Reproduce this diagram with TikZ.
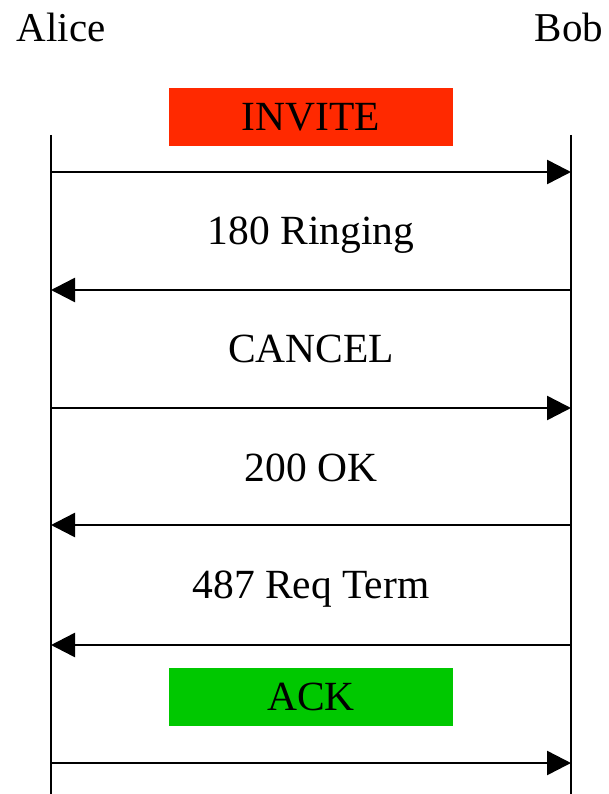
\documentclass[tikz,border=0pt]{standalone}
\usepackage{fontspec}
\setmainfont{Liberation Serif}
\usetikzlibrary{arrows.meta}
\tikzset{
    >={Triangle[length=24pt,width=24pt]},
    lifeline/.style={line width=2.5pt},
    msg/.style={line width=2.5pt,->},
    party/.style={anchor=base,inner sep=0pt,font=\fontsize{41}{44}\selectfont},
    msglabel/.style={anchor=base,inner sep=0pt,font=\fontsize{41.5}{44}\selectfont},
    msgbox/.style={minimum width=284pt,minimum height=58pt,inner sep=0pt,
      font=\fontsize{41.5}{44}\selectfont}
}

\begin{document}
\begin{tikzpicture}[x=1pt,y=-1pt]
  % colours of the two highlighted messages
  \definecolor{inviteColor}{RGB}{255,41,0}
  \definecolor{ackColor}{RGB}{0,200,0}

  \useasboundingbox (0,0) rectangle (609,794);

  % the two parties
  \node[party] (alice) at (61,42)  {Alice};
  \node[party] (bob)   at (569,42) {Bob};

  % lifelines
  \coordinate (alicetop) at (51,135);
  \coordinate (alicebot) at (51,794);
  \coordinate (bobtop)   at (571,135);
  \coordinate (bobbot)   at (571,794);
  \draw[lifeline] (alicetop) -- (alicebot);
  \draw[lifeline] (bobtop) -- (bobbot);

  % arrow ends on the lifelines
  \foreach \i/\y in {1/172,2/290,3/408,4/525,5/645,6/763}{
    \coordinate (a\i) at (51,\y);
    \coordinate (b\i) at (571,\y);
  }

  % labels
  \node[msgbox, fill=inviteColor] (invite) at (311,117)   {INVITE};
  \node[msglabel] (ringing) at (311,244) {180 Ringing};
  \node[msglabel] (cancel)  at (311,362) {CANCEL};
  \node[msglabel] (ok)      at (311,481) {200 OK};
  \node[msglabel] (term)    at (311,598) {487 Req Term};
  \node[msgbox, fill=ackColor] (ack) at (311,696.5) {ACK};

  % messages
  \draw[msg] (a1) -- (b1);
  \draw[msg] (b2) -- (a2);
  \draw[msg] (a3) -- (b3);
  \draw[msg] (b4) -- (a4);
  \draw[msg] (b5) -- (a5);
  \draw[msg] (a6) -- (b6);
\end{tikzpicture}
\end{document}
